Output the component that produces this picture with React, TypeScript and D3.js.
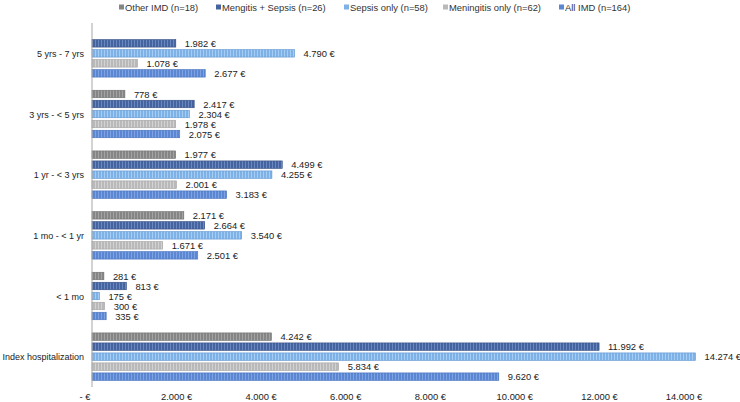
import React from "react";
import * as d3 from "d3";

const categories = ["5 yrs - 7 yrs", "3 yrs - < 5 yrs", "1 yr - < 3 yrs", "1 mo - < 1 yr", "< 1 mo", "Index hospitalization"];
const seriesNames = ["Other IMD (n=18)", "Mengitis + Sepsis (n=26)", "Sepsis only (n=58)", "Meningitis only (n=62)", "All IMD (n=164)"];
const otherIMD = [null, 778, 1977, 2171, 281, 4242];
const mengitisSepsis = [1982, 2417, 4499, 2664, 813, 11992];
const sepsisOnly = [4790, 2304, 4255, 3540, 175, 14274];
const meningitisOnly = [1078, 1978, 2001, 1671, 300, 5834];
const allIMD = [2677, 2075, 3183, 2501, 335, 9620];
const tickValues = [0, 2000, 4000, 6000, 8000, 10000, 12000, 14000];

const seriesValues = [otherIMD, mengitisSepsis, sepsisOnly, meningitisOnly, allIMD];
const baseColors = ["#858585", "#45649f", "#7eb1e6", "#b9b9b9", "#5a86d2"];
const stripeColors = ["#a3a3a3", "#6a88c0", "#a5ccf2", "#d2d2d2", "#7fa3e2"];
const edgeColors = ["#6e6e6e", "#344d80", "#5f95cf", "#a0a0a0", "#4570bb"];

const locale = d3.formatLocale({ decimal: ",", thousands: ".", grouping: [3], currency: ["", " €"] });
const fmt = locale.format(",.0f");
const euro = (v: number) => (v === 0 ? "- €" : fmt(v) + " €");

export default function App() {
  const W = 740, H = 402;
  const x = d3.scaleLinear().domain([0, 14000]).range([92, 684]);
  const y = d3.scaleBand<string>().domain(categories).range([23, 387]).padding(0);
  const pitch = 10, thick = 7.5;
  const font = "'Liberation Sans', Arial, sans-serif";

  const legendX = [119, 216, 344, 443, 559];

  return (
    <svg width={W} height={H} style={{ position: "absolute", left: 0, top: 0, background: "#fff" }} fontFamily={font}>
      <defs>
        {baseColors.map((c, i) => (
          <pattern key={i} id={"pat" + i} width={3} height={10} patternUnits="userSpaceOnUse">
            <rect width={3} height={10} fill={c} />
            <rect x={2} width={1} height={10} fill={stripeColors[i]} />
          </pattern>
        ))}
      </defs>
      {/* legend */}
      {seriesNames.map((n, i) => (
        <g key={n}>
          <rect x={legendX[i]} y={4.5} width={5} height={5} fill={baseColors[i]} />
          <text x={legendX[i] + 6} y={10.5} fontSize={9.4} fill="#333">{n}</text>
        </g>
      ))}
      {/* bars */}
      {categories.map((cat, ci) => {
        const center = (y(cat) as number) + y.bandwidth() / 2;
        return seriesValues.map((vals, si) => {
          const v = vals[ci];
          if (v == null) return null;
          const yc = center + (si - 2) * pitch;
          const x0 = x(0), x1 = x(v);
          return (
            <g key={cat + si}>
              <rect x={x0} y={yc - thick / 2} width={x1 - x0} height={thick} fill={`url(#pat${si})`} stroke={edgeColors[si]} strokeWidth={0.6} />
              <text x={x1 + 9} y={yc + 3.5} fontSize={9.4} fill="#222">{euro(v)}</text>
            </g>
          );
        });
      })}
      {/* axis line */}
      <line x1={92} x2={92} y1={23} y2={387} stroke="#a6a6a6" strokeWidth={1} />
      {/* category labels */}
      {categories.map((cat) => (
        <text key={cat} x={84} y={(y(cat) as number) + y.bandwidth() / 2 + 3.5} fontSize={9} textAnchor="end" fill="#222">{cat}</text>
      ))}
      {/* x tick labels */}
      {tickValues.map((t) => (
        <text key={t} x={x(t)} dx={t === 0 ? -7 : 0} y={400} fontSize={9.4} textAnchor="middle" fill="#222">{euro(t)}</text>
      ))}
    </svg>
  );
}
